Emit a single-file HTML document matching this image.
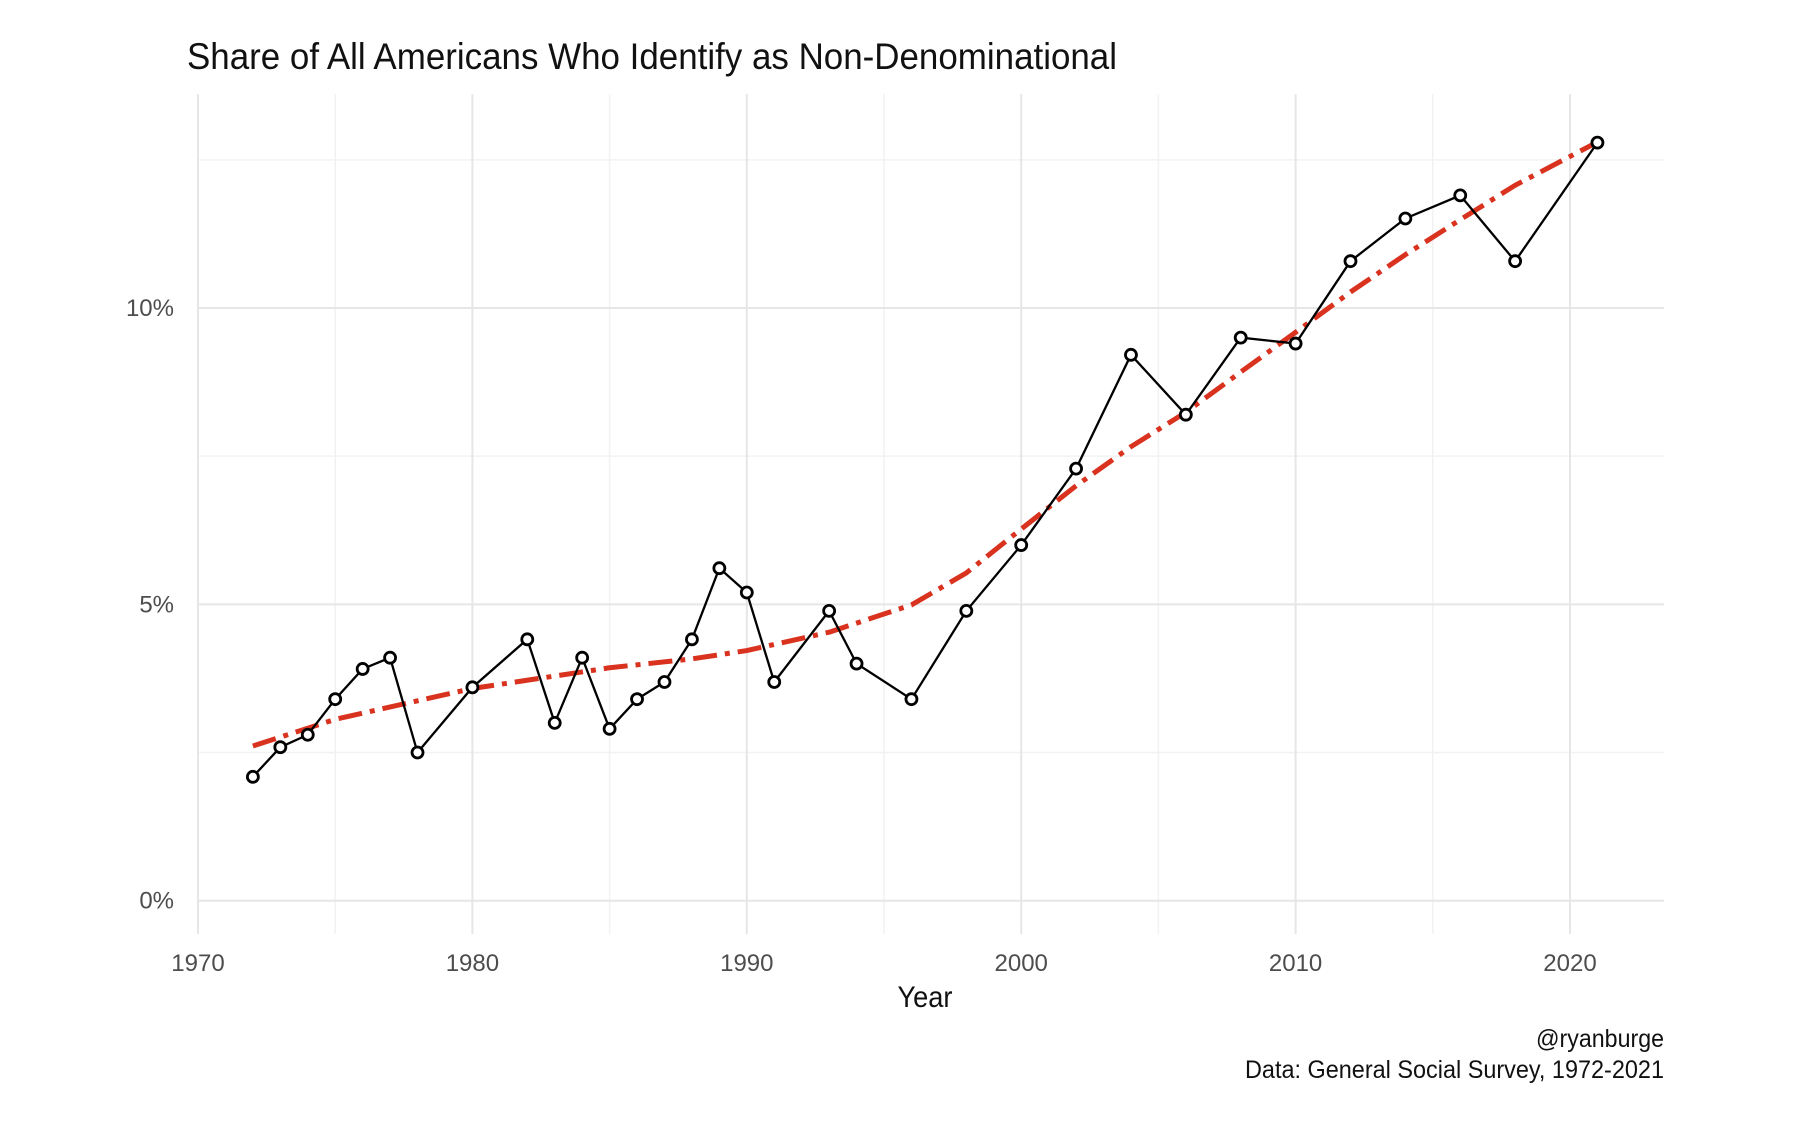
<!DOCTYPE html>
<html><head><meta charset="utf-8"><style>
html,body{margin:0;padding:0;background:#fff;}
svg{display:block;font-family:"Liberation Sans Narrow","Liberation Sans",sans-serif;}
</style></head><body>
<svg id="chart" width="1796" height="1130" viewBox="0 0 1796 1130" xmlns="http://www.w3.org/2000/svg">
<text x="187" y="69" font-size="37" fill="#111" textLength="930" lengthAdjust="spacingAndGlyphs">Share of All Americans Who Identify as Non-Denominational</text>
<g id="grid"></g>
<g id="axes"></g>
<g id="series"></g>
<text x="925" y="1007" font-size="30" text-anchor="middle" fill="#111" textLength="55" lengthAdjust="spacingAndGlyphs">Year</text>
<text x="1664" y="1047" font-size="25" text-anchor="end" fill="#111" textLength="128" lengthAdjust="spacingAndGlyphs">@ryanburge</text>
<text x="1664" y="1078" font-size="25" text-anchor="end" fill="#111" textLength="419" lengthAdjust="spacingAndGlyphs">Data: General Social Survey, 1972-2021</text>
</svg>
<script>
const years = [1972,1973,1974,1975,1976,1977,1978,1980,1982,1983,1984,1985,1986,1987,1988,1989,1990,1991,1993,1994,1996,1998,2000,2002,2004,2006,2008,2010,2012,2014,2016,2018,2021];
const shares = [2.09,2.59,2.80,3.40,3.91,4.10,2.50,3.60,4.41,3.00,4.10,2.90,3.40,3.69,4.41,5.61,5.20,3.69,4.89,4.00,3.40,4.89,6.00,7.29,9.21,8.20,9.50,9.40,10.79,11.51,11.90,10.79,12.79];
const trendYears = [1972,1975,1980,1985,1988,1990,1993,1996,1998,2000,2002,2004,2006,2008,2010,2012,2014,2016,2018,2021];
const trendValues = [2.61,3.06,3.58,3.93,4.08,4.22,4.53,4.99,5.53,6.27,7.0,7.66,8.24,8.92,9.59,10.27,10.9,11.49,12.07,12.8];
const xMajor = [1970,1980,1990,2000,2010,2020];
const xMinor = [1975,1985,1995,2005,2015];
const yMajor = [0,5,10];
const yMajorLabels = ["0%","5%","10%"];
const yMinor = [2.5,7.5,12.5];

const NS="http://www.w3.org/2000/svg";
const L=198,R=1664,T=94,B=934;
function xs(v){return 198+(v-1970)*(1570-198)/50;}
function ys(v){return 900.7-v*(900.7-308)/10;}
function mk(t,a,p){const e=document.createElementNS(NS,t);for(const k in a)e.setAttribute(k,a[k]);p.appendChild(e);return e;}
const grid=document.getElementById('grid'),axes=document.getElementById('axes'),ser=document.getElementById('series');
xMinor.forEach(v=>{const e=mk('line',{x1:xs(v),x2:xs(v),y1:T,y2:B,stroke:'#f2f2f2','stroke-width':1.5},grid);

});
yMinor.forEach(v=>{const e=mk('line',{x1:L,x2:R,y1:ys(v),y2:ys(v),stroke:'#f2f2f2','stroke-width':1.5},grid);

});
xMajor.forEach(v=>{const e=mk('line',{x1:xs(v),x2:xs(v),y1:T,y2:B,stroke:'#e6e6e6','stroke-width':2},grid);


const t=mk('text',{x:xs(v),y:971,'font-size':24,'text-anchor':'middle',fill:'#4d4d4d'},axes);t.textContent=v;

});
yMajor.forEach((v,i)=>{const e=mk('line',{x1:L,x2:R,y1:ys(v),y2:ys(v),stroke:'#e6e6e6','stroke-width':2},grid);


const t=mk('text',{x:174,y:ys(v)+8,'font-size':24,'text-anchor':'end',fill:'#4d4d4d'},axes);t.textContent=yMajorLabels[i];

});
const tp=mk('polyline',{points:trendYears.map((y,i)=>xs(y)+','+ys(trendValues[i])).join(' '),fill:'none',stroke:'#d9321f','stroke-width':5,'stroke-dasharray':'24 8 5 8','stroke-linejoin':'round'},ser);


const lp=mk('polyline',{points:years.map((y,i)=>xs(y)+','+ys(shares[i])).join(' '),fill:'none',stroke:'#000','stroke-width':2.3},ser);


years.forEach((y,i)=>{const c=mk('circle',{cx:xs(y),cy:ys(shares[i]),r:5.5,fill:'#fff',stroke:'#000','stroke-width':2.8},ser);

});
</script>
</body></html>
